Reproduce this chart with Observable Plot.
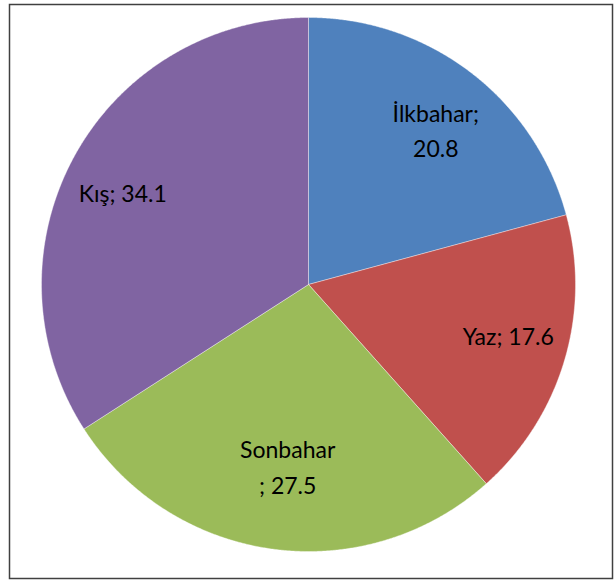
<!DOCTYPE html>
<html>
<head>
<meta charset="utf-8">
<script src="https://cdn.jsdelivr.net/npm/d3@7"></script>
<script src="https://cdn.jsdelivr.net/npm/@observablehq/plot@0.6"></script>
<style>
  html, body { margin: 0; padding: 0; background: #fff; }
</style>
</head>
<body>
<div id="chart"></div>
<script>
const seasons = ["İlkbahar", "Yaz", "Sonbahar", "Kış"];
const values = [20.8, 17.6, 27.5, 34.1];
const labelTexts = ["İlkbahar;\n20.8", "Yaz; 17.6", "Sonbahar\n; 27.5", "Kış; 34.1"];
const colors = ["#4F81BD", "#C0504D", "#9BBB59", "#8064A2"];

const pie = d3.pie().sort(null).value(d => d)(values);

// Polygon points in unit-circle coordinates (angle 0 at top, clockwise)
const polys = [];
pie.forEach((p, i) => {
  polys.push({season: seasons[i], x: 0, y: 0});
  const n = Math.max(2, Math.ceil((p.endAngle - p.startAngle) / 0.005));
  for (let k = 0; k <= n; k++) {
    const a = p.startAngle + (p.endAngle - p.startAngle) * k / n;
    polys.push({season: seasons[i], x: Math.sin(a), y: Math.cos(a)});
  }
  polys.push({season: seasons[i], x: 0, y: 0});
});

const labelR = [0.755, 0.77, 0.68, 0.78];
const labelShift = [0.03, -0.05, -0.02, -0.03];
const labels = pie.map((p, i) => {
  const a = (p.startAngle + p.endAngle) / 2 + labelShift[i];
  return {text: labelTexts[i], x: labelR[i] * Math.sin(a), y: labelR[i] * Math.cos(a)};
});

const chart = Plot.plot({
  width: 614,
  height: 580,
  marginLeft: 9, marginTop: 4, marginRight: 2, marginBottom: 2,
  style: {fontFamily: "Lato, 'Open Sans', sans-serif", background: "#fff"},
  x: {domain: [-1, 1], range: [41, 575], axis: null},
  y: {domain: [-1, 1], range: [551, 17], axis: null},
  color: {domain: seasons, range: colors},
  marks: [
    Plot.frame({stroke: "#404040", strokeWidth: 1.5}),
    Plot.line(polys, {x: "x", y: "y", z: "season", fill: "season", stroke: "#ffffff", strokeOpacity: 0.5, strokeWidth: 0.75, curve: "linear"}),
    Plot.text(labels, {x: "x", y: "y", text: "text", fontSize: 23, fill: "#000", lineHeight: 1.55})
  ]
});
document.getElementById("chart").appendChild(chart);
</script>
</body>
</html>
